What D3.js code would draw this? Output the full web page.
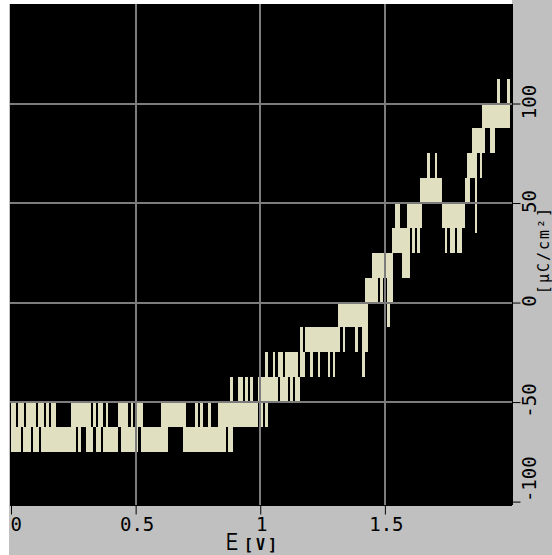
<!DOCTYPE html>
<html>
<head>
<meta charset="utf-8">
<script src="https://d3js.org/d3.v7.min.js"></script>
<style>
  body { margin: 0; background: #fff; }
  svg text { font-family: 'DejaVu Sans Mono', monospace; fill: #000; }
  .grid line { stroke: #7c7c7c; stroke-width: 2; shape-rendering: crispEdges; }
  .trace rect { fill: #e0dfc0; shape-rendering: crispEdges; }
</style>
</head>
<body>
<svg id="chart"></svg>
<script>
const WIDTH  = 552;
const HEIGHT = 555;
const PLOT   = { left: 10, top: 4, right: 512, bottom: 505 };

// axis ticks / labels
const X_TICKS       = [0, 0.5, 1, 1.5];
const X_TICK_LABELS = ['0', '0.5', '1', '1.5'];
const Y_TICKS       = [100, 50, 0, -50, -100];
const Y_TICK_LABELS = ['100', '50', '0', '-50', '-100'];
const X_GRID        = [0.5, 1, 1.5];
const Y_GRID        = [100, 50, 0, -50];

// sampled charge trace, one column every 0.01 V (min / max in that column), uC/cm2
const E_STEP = 0.01;
const chargeLo = [
  -75,-75,-75,-75,-62.5,-75,-75,-75,-62.5,-75,
  -75,-62.5,-75,-75,-75,-75,-75,-75,-75,-75,
  -75,-75,-75,-75,-75,-75,-62.5,-75,-62.5,-62.5,
  -75,-75,-75,-62.5,-75,-75,-62.5,-75,-75,-75,
  -75,-75,-75,-62.5,-75,-75,-75,-75,-75,-75,
  -75,-62.5,-75,-75,-75,-75,-75,-75,-75,-75,
  -75,-75,-75,-62.5,-62.5,-62.5,-62.5,-62.5,-62.5,-75,
  -75,-75,-75,-75,-75,-75,-75,-75,-75,-75,
  -75,-75,-75,-75,-75,-75,-62.5,-75,-75,-62.5,
  -62.5,-62.5,-62.5,-62.5,-62.5,-62.5,-62.5,-62.5,-62.5,-50,
  -62.5,-50,-62.5,-50,-50,-50,-50,-37.5,-50,-50,
  -50,-37.5,-50,-37.5,-50,-50,-37.5,-37.5,-25,-25,
  -37.5,-25,-25,-37.5,-25,-25,-25,-37.5,-25,-37.5,
  -25,-25,-12.5,-25,-12.5,-12.5,-12.5,-12.5,-25,-12.5,
  -12.5,-37.5,-25,0,0,0,0,12.5,0,12.5,
  12.5,-12.5,0,25,25,25,25,12.5,12.5,12.5,
  37.5,25,37.5,25,37.5,50,50,50,50,50,
  50,50,50,37.5,25,37.5,25,25,37.5,25,
  25,37.5,50,50,62.5,62.5,35,75,62.5,75,
  87.5,87.5,75,75,87.5,87.5,87.5,87.5,87.5,87.5
];
const chargeHi = [
  -50,-50,-62.5,-50,-50,-62.5,-50,-50,-50,-50,
  -62.5,-50,-50,-62.5,-50,-62.5,-50,-50,-62.5,-62.5,
  -62.5,-62.5,-62.5,-62.5,-50,-50,-50,-50,-50,-50,
  -50,-50,-62.5,-50,-62.5,-50,-50,-62.5,-50,-62.5,
  -62.5,-62.5,-62.5,-50,-50,-50,-50,-62.5,-50,-62.5,
  -50,-50,-50,-62.5,-62.5,-62.5,-62.5,-62.5,-62.5,-62.5,
  -50,-50,-50,-50,-50,-50,-50,-50,-50,-50,
  -62.5,-62.5,-62.5,-62.5,-50,-62.5,-50,-62.5,-62.5,-50,
  -62.5,-62.5,-62.5,-50,-50,-50,-50,-50,-37.5,-50,
  -50,-37.5,-37.5,-50,-37.5,-50,-37.5,-50,-50,-37.5,
  -37.5,-37.5,-25,-37.5,-37.5,-25,-37.5,-25,-25,-37.5,
  -25,-25,-25,-25,-25,-37.5,-12.5,-25,-12.5,-12.5,
  -12.5,-12.5,-12.5,-12.5,-12.5,-12.5,-12.5,-12.5,-12.5,-12.5,
  -12.5,0,0,0,0,0,0,0,0,0,
  0,0,12.5,12.5,12.5,25,25,25,25,25,
  25,25,25,37.5,50,50,37.5,37.5,37.5,50,
  50,50,50,50,62.5,62.5,62.5,75,62.5,62.5,
  75,62.5,62.5,50,50,50,50,50,50,50,
  50,50,62.5,75,75,87.5,87.5,87.5,87.5,100,
  100,100,100,100,100,112.5,100,100,100,112.5
];
const E = chargeLo.map((_, i) => +(i * E_STEP).toFixed(2));

const svg = d3.select('#chart')
  .attr('width', WIDTH)
  .attr('height', HEIGHT);

// backgrounds
svg.append('rect')
  .attr('x', 9).attr('y', 0)
  .attr('width', WIDTH - 9).attr('height', HEIGHT)
  .style('fill', '#c0c0c0');
svg.append('rect')
  .attr('x', 0).attr('y', 0)
  .attr('width', PLOT.right).attr('height', PLOT.top)
  .style('fill', '#fff');
svg.append('rect')
  .attr('x', PLOT.left).attr('y', PLOT.top)
  .attr('width', PLOT.right - PLOT.left).attr('height', PLOT.bottom - PLOT.top)
  .style('fill', '#000');

const x = d3.scaleLinear()
  .domain([0, 2.01])
  .range([11, PLOT.right]);

const y = d3.scaleLinear()
  .domain([-100, 150])
  .range([501.6, PLOT.top]);

// trace columns
svg.append('g')
  .attr('class', 'trace')
  .selectAll('rect')
  .data(E)
  .join('rect')
    .attr('x', d => x(d))
    .attr('width', d => x(d + E_STEP) - x(d) + 0.2)
    .attr('y', (d, i) => y(chargeHi[i]))
    .attr('height', (d, i) => y(chargeLo[i]) - y(chargeHi[i]));

// grid on top of the trace
const grid = svg.append('g').attr('class', 'grid');
grid.selectAll('.vx')
  .data(X_GRID)
  .join('line')
    .attr('x1', d => Math.round(x(d))).attr('x2', d => Math.round(x(d)))
    .attr('y1', PLOT.top).attr('y2', PLOT.bottom);
grid.selectAll('.hy')
  .data(Y_GRID)
  .join('line')
    .attr('x1', PLOT.left).attr('x2', PLOT.right)
    .attr('y1', d => Math.round(y(d))).attr('y2', d => Math.round(y(d)));

// bottom axis
const xAxis = d3.axisBottom(x)
  .tickValues(X_TICKS)
  .tickSize(9)
  .tickSizeOuter(0)
  .tickFormat((d, i) => X_TICK_LABELS[i]);

const gx = svg.append('g')
  .attr('transform', 'translate(0,' + (PLOT.bottom + 0.5) + ')')
  .call(xAxis);
gx.select('.domain').attr('d', 'M' + PLOT.left + ',0H' + PLOT.right).attr('stroke', '#000');
gx.selectAll('line').attr('stroke', '#000');
gx.selectAll('text')
  .attr('font-family', 'DejaVu Sans Mono')
  .attr('font-size', 19)
  .attr('y', 12)
  .attr('dy', '0.71em')
  .attr('text-anchor', (d, i) => i === 0 ? 'start' : 'middle')
  .attr('x', (d, i) => i === 0 ? -1 : 1);

// right axis
const yAxis = d3.axisRight(y)
  .tickValues(Y_TICKS)
  .tickSize(8)
  .tickSizeOuter(0)
  .tickFormat((d, i) => Y_TICK_LABELS[i]);

const gy = svg.append('g')
  .attr('transform', 'translate(' + (PLOT.right + 0.5) + ',0)')
  .call(yAxis);
gy.select('.domain').attr('d', 'M0,' + PLOT.top + 'V' + PLOT.bottom).attr('stroke', '#000');
gy.selectAll('line').attr('stroke', '#000');
gy.selectAll('text')
  .attr('font-family', 'DejaVu Sans Mono')
  .attr('font-size', 19)
  .attr('x', null)
  .attr('dy', null)
  .attr('transform', (d, i) => i === Y_TICKS.length - 1
    ? 'translate(23,0) rotate(-90)'
    : 'translate(23,-2) rotate(-90)')
  .attr('text-anchor', (d, i) => i === Y_TICKS.length - 1 ? 'start' : 'middle');

// axis titles
svg.append('text')
  .attr('transform', 'translate(226,550) scale(0.75,1)')
  .style('font-family', 'Liberation Sans')
  .attr('font-size', 24)
  .text('E');

svg.append('text')
  .attr('x', 244)
  .attr('y', 550)
  .attr('font-size', 15)
  .attr('font-weight', 'bold')
  .attr('letter-spacing', 3)
  .text('[V]');

svg.append('text')
  .attr('transform', 'translate(549,250) rotate(-90)')
  .attr('text-anchor', 'middle')
  .attr('font-size', 15)
  .attr('letter-spacing', 2)
  .text('[μC/cm²]');
</script>
</body>
</html>
